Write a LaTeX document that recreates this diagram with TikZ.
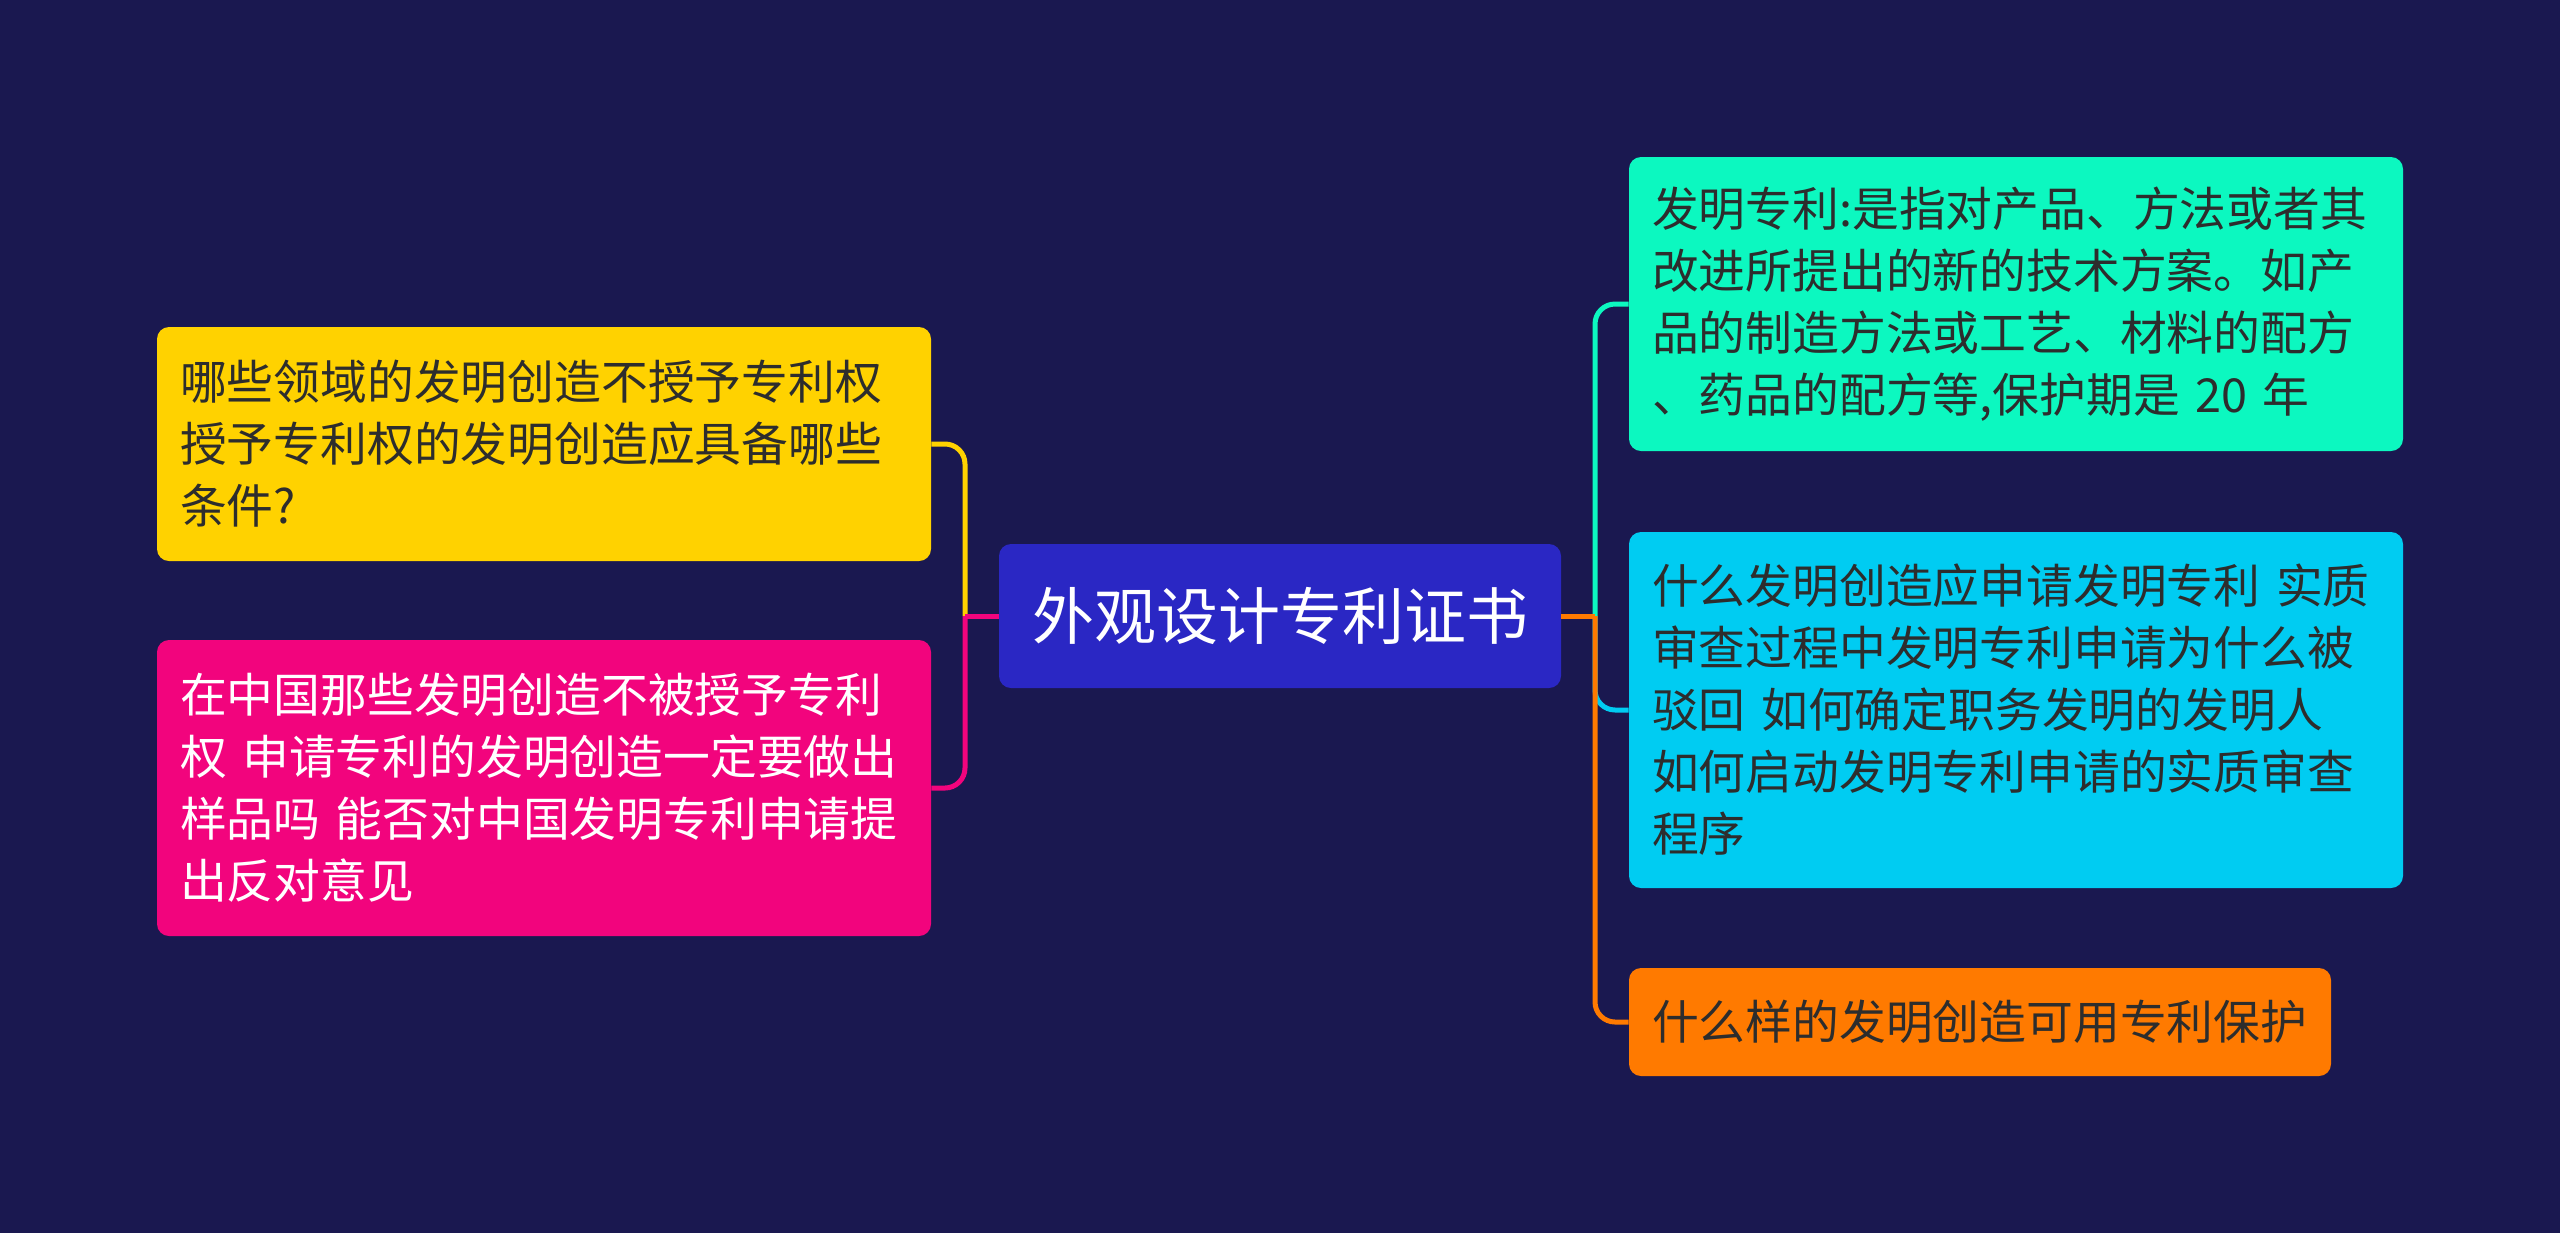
\documentclass[tikz,border=0pt]{standalone}
\usepackage{fontspec}
\setmainfont{Noto Sans CJK SC}
\definecolor{bg}{HTML}{1A1850}
\definecolor{cen}{HTML}{2A27C4}
\definecolor{yel}{HTML}{FFD200}
\definecolor{pnk}{HTML}{F2047D}
\definecolor{grn}{HTML}{0CF8C0}
\definecolor{blu}{HTML}{00CCF2}
\definecolor{org}{HTML}{FF7A00}
\definecolor{dtxt}{HTML}{2D2D2D}
\tikzset{
  box/.style={rounded corners=6pt, inner xsep=11.5pt, inner ysep=0pt, align=left,
    font=\fontsize{23.4}{31}\selectfont, text=dtxt},
  link/.style={line width=2.5pt, rounded corners=10pt}
}
\begin{document}
\begin{tikzpicture}[x=0.5pt,y=-0.5pt]
\useasboundingbox[fill=bg] (0,0) rectangle (2560,1233);
\node[rounded corners=6pt, fill=cen, minimum width=281pt, minimum height=72pt, text=white,
  font=\fontsize{31}{36}\selectfont] (c) at (1280,616) {外观设计专利证书};
\node[box, fill=yel, text width=364pt, minimum height=117pt] (y) at (544,444)
  {哪些领域的发明创造不授予专利权\\授予专利权的发明创造应具备哪些\\条件?};
\node[box, fill=pnk, text=white, text width=364pt, minimum height=148pt] (p) at (544,788)
  {在中国那些发明创造不被授予专利\\权 申请专利的发明创造一定要做出\\样品吗 能否对中国发明专利申请提\\出反对意见};
\node[box, fill=grn, text width=364pt, minimum height=147pt] (g) at (2016,304)
  {发明专利:是指对产品、方法或者其\\改进所提出的新的技术方案。如产\\品的制造方法或工艺、材料的配方\\、药品的配方等,保护期是 20 年};
\node[box, fill=blu, text width=364pt, minimum height=178pt] (b) at (2016,710)
  {什么发明创造应申请发明专利 实质\\审查过程中发明专利申请为什么被\\驳回 如何确定职务发明的发明人\\如何启动发明专利申请的实质审查\\程序};
\node[box, fill=org, text width=328pt, minimum height=54pt] (o) at (1980,1022)
  {什么样的发明创造可用专利保护};
\coordinate (jl) at (965,616);
\coordinate (jr) at (1595,616);
\draw[link, yel] (jl) |- (y.east);
\draw[link, pnk] (jl) |- (p.east);
\draw[line width=2.5pt, pnk] (c.west) -- (jl);
\draw[link, grn] (jr) |- (g.west);
\draw[link, blu] (jr) |- (b.west);
\draw[link, org] (jr) |- (o.west);
\draw[line width=2.5pt, org] (c.east) -- (jr);
\end{tikzpicture}
\end{document}
